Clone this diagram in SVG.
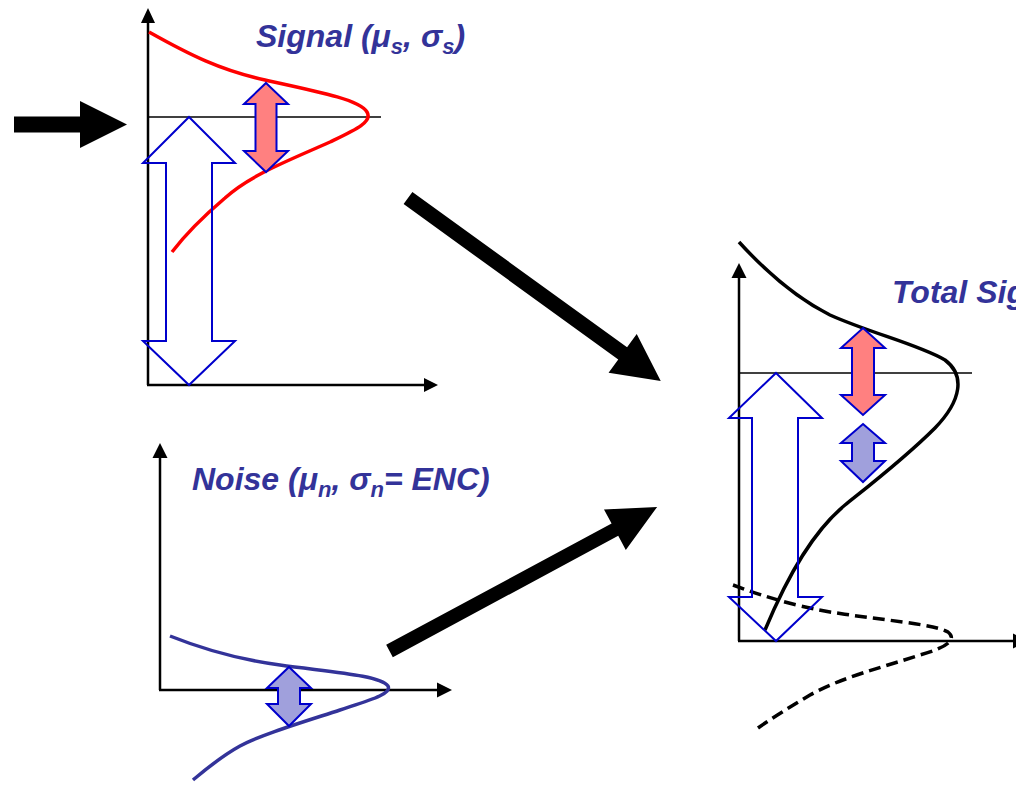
<svg xmlns="http://www.w3.org/2000/svg" width="1016" height="786" viewBox="0 0 1016 786">
<style>
.axis{stroke:#000;stroke-width:2.5;fill:none}
.ah{fill:#000}
.hl{stroke:#000;stroke-width:1.5}
.big{fill:#000}
.outline{fill:none;stroke:#0000CC;stroke-width:2}
.red{fill:#FF8080;stroke:#0000CC;stroke-width:2}
.blu{fill:#A0A0DC;stroke:#0000CC;stroke-width:2}
.lbl{font-family:"Liberation Sans",Arial,sans-serif;font-weight:bold;font-style:italic;font-size:32px;fill:#333399}
.sub{font-size:22px}
</style>
<rect width="1016" height="786" fill="#fff"/>
<g id="signal-plot">
<line class="axis" x1="148" y1="20" x2="148" y2="385"/>
<line class="axis" x1="147" y1="385" x2="428" y2="385"/>
<polygon class="ah" points="148,8 141,23 155,23"/>
<polygon class="ah" points="438,385 424,378 424,392"/>
<line class="hl" x1="148" y1="117" x2="381" y2="117"/>
<path d="M149,32 C190,55 220,70 265,80 C320,92 360,100 367,112 C373,122 355,130 330,142 C290,160 250,175 225,198 C205,215 185,235 172,252" fill="none" stroke="#FF0000" stroke-width="3.5"/>
<polygon class="outline" points="189,117 235,163 212,163 212,341 235,341 189,385 143,341 166,341 166,163 143,163"/>
<polygon class="red" points="266,83 288,104 276.5,104 276.5,151 288,151 266,172 244,151 255.5,151 255.5,104 244,104"/>
<text class="lbl" x="256" y="47">Signal (μ<tspan class="sub" dy="7">s</tspan><tspan dy="-7">, σ</tspan><tspan class="sub" dy="7">s</tspan><tspan dy="-7">)</tspan></text>
</g>
<g id="noise-plot">
<line class="axis" x1="160" y1="455" x2="160" y2="690"/>
<line class="axis" x1="159" y1="690" x2="440" y2="690"/>
<polygon class="ah" points="160,443 152.5,458 167.5,458"/>
<polygon class="ah" points="452,690 437,682.5 437,697.5"/>
<path d="M170,636 C200,648 235,659 280,665 C330,672 380,675 388,686 C392,694 370,700 340,710 C300,723 260,735 240,746 C220,757 205,770 193,780" fill="none" stroke="#333399" stroke-width="3.5"/>
<polygon class="blu" points="289,667 311,688 300,688 300,704 311,704 289,726 267,704 278,704 278,688 267,688"/>
<text class="lbl" x="192" y="490">Noise (μ<tspan class="sub" dy="7">n</tspan><tspan dy="-7">, σ</tspan><tspan class="sub" dy="7">n</tspan><tspan dy="-7">= ENC)</tspan></text>
</g>
<g id="total-plot">
<line class="axis" x1="739" y1="275" x2="739" y2="641"/>
<line class="axis" x1="738" y1="641" x2="1016" y2="641"/>
<polygon class="ah" points="739,263 731.5,278 746.5,278"/>
<polygon class="ah" points="1028,641 1013,633.5 1013,648.5"/>
<line class="hl" x1="739" y1="373" x2="972" y2="373"/>
<path d="M739,242 C760,265 790,295 830,315 C870,333 920,345 945,360 C965,375 962,400 935,428 C905,458 870,485 845,505 C815,530 790,570 765,630" fill="none" stroke="#000" stroke-width="3.5"/>
<path d="M733,585 C760,595 790,605 830,612 C880,620 935,624 948,632 C958,640 945,648 920,655 C880,668 840,678 810,695 C790,707 772,718 758,728" fill="none" stroke="#000" stroke-width="3.5" stroke-dasharray="12,6"/>
<polygon class="outline" points="776,373 822,418 798,418 798,597 822,597 776,641 729,597 752,597 752,418 729,418"/>
<polygon class="red" points="863,328 885,348 874,348 874,395 885,395 863,415 841,395 852,395 852,348 841,348"/>
<polygon class="blu" points="863,424 885,443 874,443 874,461 885,461 863,482 841,461 852,461 852,443 841,443"/>
<text class="lbl" x="892" y="303">Total Signal</text>
</g>
<g id="connectors">
<polygon class="big" points="14,116.5 80,116.5 80,101 127,124.5 80,148 80,132.5 14,132.5"/>
<g transform="translate(408,198) rotate(35.9)">
<polygon class="big" points="0,-7.5 265,-7.5 265,-24 312,0 265,24 265,7.5 0,7.5"/>
</g>
<g transform="translate(389.5,651) rotate(-28.3)">
<polygon class="big" points="0,-7 256,-7 256,-23 304,0 256,23 256,7 0,7"/>
</g>
</g>
</svg>
